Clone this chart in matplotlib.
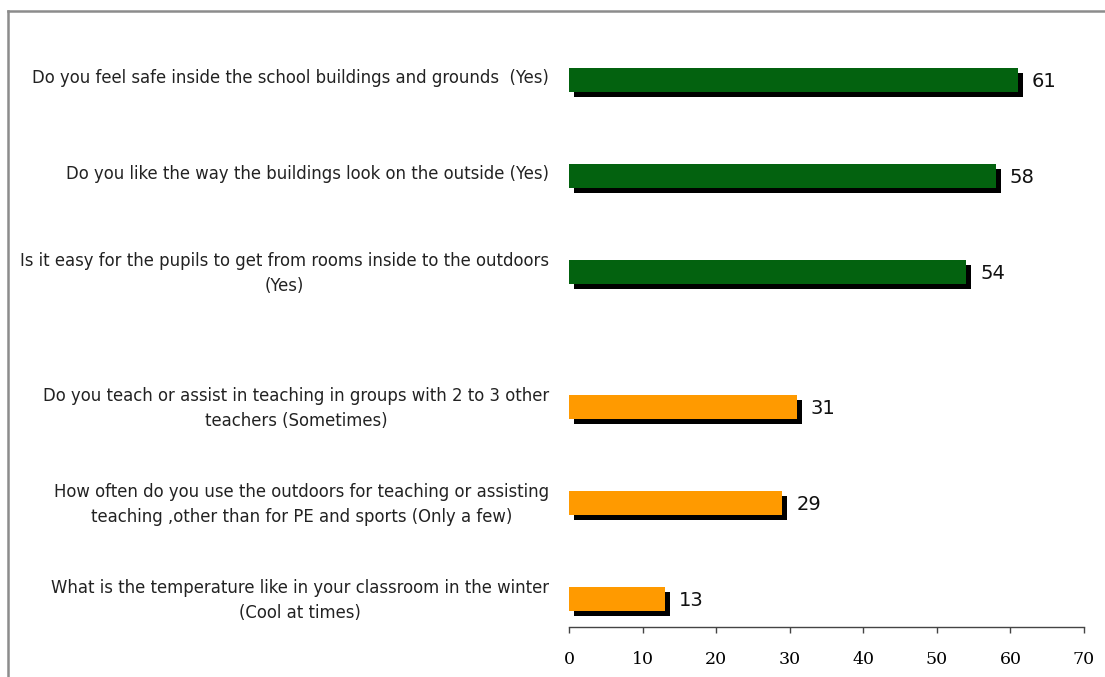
import numpy as np
import matplotlib.pyplot as plt
import matplotlib.transforms as mtransforms
from matplotlib.lines import Line2D

# pytania z ankiety i odsetek odpowiedzi
pytania = [
    "Do you feel safe inside the school buildings and grounds  (Yes)",
    "Do you like the way the buildings look on the outside (Yes)",
    "Is it easy for the pupils to get from rooms inside to the outdoors\n(Yes)",
    "Do you teach or assist in teaching in groups with 2 to 3 other\nteachers (Sometimes)",
    "How often do you use the outdoors for teaching or assisting\nteaching ,other than for PE and sports (Only a few)",
    "What is the temperature like in your classroom in the winter\n(Cool at times)",
]
wartosci = [61, 58, 54, 31, 29, 13]
kolory = ["#03620F", "#03620F", "#03620F", "#FF9A00", "#FF9A00", "#FF9A00"]
xticki = [0, 10, 20, 30, 40, 50, 60, 70]

idx = np.arange(len(wartosci))
pos = idx + np.where(idx >= 3, 0.406, 0.0)

fig = plt.figure(figsize=(11.05, 6.77), dpi=100)
ax = fig.add_axes([569 / 1105, 50 / 677, 515 / 1105, 587 / 677])

# cien pod slupkami
cien = mtransforms.offset_copy(ax.transData, fig=fig, x=5, y=-5, units='dots')
ax.barh(pos, wartosci, height=0.25, color='black', transform=cien, zorder=2)
ax.barh(pos, wartosci, height=0.25, color=kolory, zorder=3)

for p, v in zip(pos, wartosci):
    ax.annotate(str(v), (v, p), xytext=(10, -1), textcoords='offset points',
                ha='left', va='center', fontsize=14, family='DejaVu Sans', color='#111111')

ax.set_xlim(0, 70)
ax.set_ylim(5.698, 5.698 - 6.115)
ax.set_xticks(xticki)
ax.set_xticklabels([str(t) for t in xticki], family='DejaVu Serif', fontsize=12.5)
ax.set_yticks(pos)
ax.set_yticklabels(pytania, family='DejaVu Sans', fontsize=11.9, multialignment='center',
                   color='#222222', linespacing=1.5)
ax.tick_params(axis='y', length=0, pad=14.4)
ax.tick_params(axis='x', length=4, width=1, color='#444444', pad=13, direction='out')
for s in ['left', 'right', 'top']:
    ax.spines[s].set_visible(False)
ax.spines['bottom'].set_color('#444444')
ax.spines['bottom'].set_linewidth(1)

# etykiety lekko ponad srodkiem slupka
for lab in ax.get_yticklabels():
    lab.set_transform(lab.get_transform() + mtransforms.ScaledTranslation(0, 4 / 100, fig.dpi_scale_trans))

# ramka wokol wykresu
fig.add_artist(Line2D([7.5 / 1105, 7.5 / 1105], [0, 1 - 10.5 / 677], transform=fig.transFigure,
                      color='#8c8c8c', lw=1.8))
fig.add_artist(Line2D([7.5 / 1105, 1], [1 - 10.5 / 677, 1 - 10.5 / 677], transform=fig.transFigure,
                      color='#8c8c8c', lw=1.8))

plt.savefig("out.png", dpi=100)
plt.close()
